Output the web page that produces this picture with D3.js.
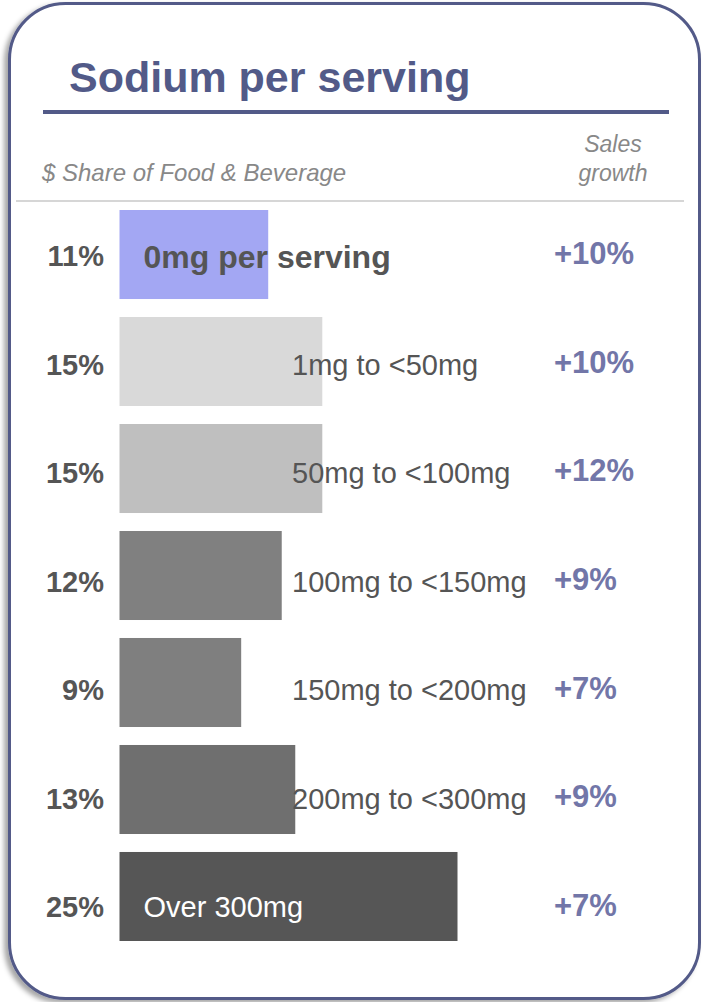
<!DOCTYPE html>
<html>
<head>
<meta charset="utf-8">
<script src="https://cdn.jsdelivr.net/npm/d3@7"></script>
<style>
  html, body { margin: 0; padding: 0; background: #fff; }
  svg { display: block; font-family: "Liberation Sans", Arial, sans-serif; }
</style>
</head>
<body>
<svg id="chart" width="705" height="1002"></svg>
<script>
// Sodium bands, their share of food & beverage dollar sales, and sales growth
const categories = ["0mg per serving", "1mg to <50mg", "50mg to <100mg", "100mg to <150mg",
                    "150mg to <200mg", "200mg to <300mg", "Over 300mg"];
const shareValues = [11, 15, 15, 12, 9, 13, 25];
const growthValues = [10, 10, 12, 9, 7, 9, 7];
const barColors = ["#a3a7f3", "#d9d9d9", "#bfbfbf", "#808080", "#7f7f7f", "#6f6f6f", "#565656"];

const titleText = "Sodium per serving";
const shareHeader = "$ Share of Food & Beverage";
const growthHeader = ["Sales", "growth"];

const svg = d3.select("#chart");
const navy = "#525a88";
const textGray = "#555555";
const growthColor = "#7276a8";

// Card outline with a soft shadow on the lower left
const defs = svg.append("defs");
const f = defs.append("filter").attr("id", "cardShadow")
  .attr("x", "-5%").attr("y", "-5%").attr("width", "110%").attr("height", "110%");
f.append("feDropShadow").attr("dx", -4).attr("dy", 3).attr("stdDeviation", 2.5)
  .attr("flood-color", "#000").attr("flood-opacity", 0.35);

svg.append("rect")
  .attr("x", 9.5).attr("y", 3.5).attr("width", 690).attr("height", 995)
  .attr("rx", 56).attr("ry", 56)
  .attr("fill", "#fff").attr("stroke", navy).attr("stroke-width", 3)
  .attr("filter", "url(#cardShadow)");

// Title and rule
svg.append("text")
  .attr("x", 69).attr("y", 92)
  .attr("font-size", 43).attr("font-weight", "bold").attr("fill", navy)
  .text(titleText);
svg.append("line")
  .attr("x1", 43).attr("x2", 669).attr("y1", 112).attr("y2", 112)
  .attr("stroke", navy).attr("stroke-width", 4);

// Column headers
svg.append("text")
  .attr("x", 42).attr("y", 181)
  .attr("font-size", 24).attr("font-style", "italic").attr("fill", "#888")
  .text(shareHeader);
svg.append("text")
  .attr("x", 613).attr("y", 152)
  .attr("text-anchor", "middle").attr("font-size", 23).attr("font-style", "italic").attr("fill", "#888")
  .selectAll("tspan").data(growthHeader).join("tspan")
  .attr("x", 613).attr("dy", (d, i) => i === 0 ? 0 : 29)
  .text(d => d);

svg.append("line")
  .attr("x1", 16).attr("x2", 684).attr("y1", 201).attr("y2", 201)
  .attr("stroke", "#c8c8c8").attr("stroke-width", 1.5);

// Scales
const x = d3.scaleLinear().domain([0, 25]).range([119.5, 457.5]);
const y = d3.scaleBand().domain(categories).range([210, 941]).paddingInner(0.168).paddingOuter(0);
const rowLeft = d3.scalePoint().domain(categories).range([256, 907]);
const rowLabel = d3.scalePoint().domain(categories).range([256, 907]);
const rowGrowth = d3.scalePoint().domain(categories).range([253, 905]);

const rows = categories.map((c, i) => ({
  cat: c, share: shareValues[i], growth: growthValues[i], color: barColors[i], i
}));
const last = categories.length - 1;

// Bars
svg.append("g").selectAll("rect").data(rows).join("rect")
  .attr("x", x(0))
  .attr("y", d => y(d.cat))
  .attr("width", d => x(d.share) - x(0))
  .attr("height", y.bandwidth())
  .attr("fill", d => d.color);

// Share labels on the left
svg.append("g").selectAll("text").data(rows).join("text")
  .attr("x", 104)
  .attr("y", d => rowLeft(d.cat))
  .attr("dy", "0.36em")
  .attr("text-anchor", "end")
  .attr("font-size", 29).attr("font-weight", "bold").attr("fill", textGray)
  .text(d => d3.format("d")(d.share) + "%");

// Category labels: first and last sit inside their bars, the rest to the right
svg.append("g").selectAll("text").data(rows).join("text")
  .attr("x", d => (d.i === 0 || d.i === last) ? x(0) + 24 : 292)
  .attr("y", d => rowLabel(d.cat))
  .attr("dy", "0.36em")
  .attr("font-size", d => d.i === 0 ? 32 : 29)
  .attr("font-weight", d => d.i === 0 ? "bold" : "normal")
  .attr("fill", d => d.i === last ? "#ffffff" : textGray)
  .text(d => d.cat);

// Sales growth labels
svg.append("g").selectAll("text").data(rows).join("text")
  .attr("x", 554)
  .attr("y", d => rowGrowth(d.cat))
  .attr("dy", "0.36em")
  .attr("font-size", 31).attr("font-weight", "bold").attr("fill", growthColor)
  .text(d => "+" + d.growth + "%");
</script>
</body>
</html>
